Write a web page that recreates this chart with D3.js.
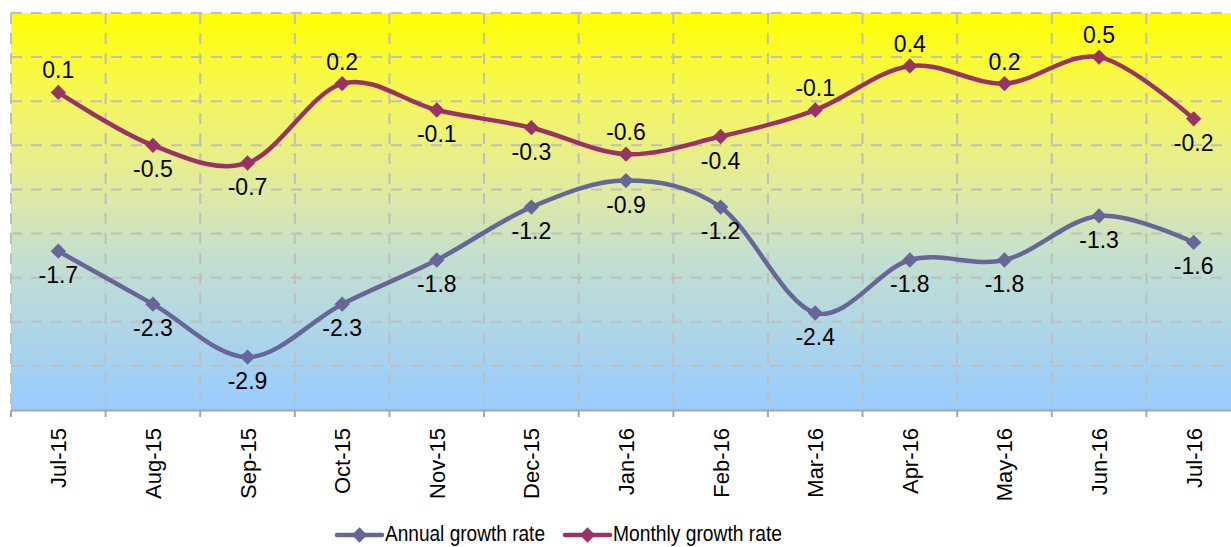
<!DOCTYPE html>
<html>
<head>
<meta charset="utf-8">
<script src="https://cdn.jsdelivr.net/npm/d3@7/dist/d3.min.js"></script>
<style>
  html, body { margin: 0; padding: 0; background: #ffffff; }
  svg { display: block; font-family: "Liberation Sans", Arial, sans-serif; }
</style>
</head>
<body>
<svg id="chart" width="1231" height="547"></svg>
<script>
const categories = ["Jul-15","Aug-15","Sep-15","Oct-15","Nov-15","Dec-15","Jan-16","Feb-16","Mar-16","Apr-16","May-16","Jun-16","Jul-16"];
const annualGrowth = [-1.7,-2.3,-2.9,-2.3,-1.8,-1.2,-0.9,-1.2,-2.4,-1.8,-1.8,-1.3,-1.6];
const monthlyGrowth = [0.1,-0.5,-0.7,0.2,-0.1,-0.3,-0.6,-0.4,-0.1,0.4,0.2,0.5,-0.2];
const annualLabelSide = ["below","below","below","below","below","below","below","below","below","below","below","below","below"];
const monthlyLabelSide = ["above","below","below","above","below","below","above","below","above","above","above","above","below"];
const yTicks = [-3.5,-3,-2.5,-2,-1.5,-1,-0.5,0,0.5,1];
const seriesNames = ["Annual growth rate","Monthly growth rate"];

const svg = d3.select("#chart");
const plot = {left: 11, top: 13, right: 1241, bottom: 410};

const x = d3.scaleBand().domain(categories).range([plot.left, plot.right]).padding(0);
const y = d3.scaleLinear().domain([-3.5, 1]).range([plot.bottom, plot.top]);

// gradient background
const defs = svg.append("defs");
const grad = defs.append("linearGradient").attr("id","bg").attr("x1",0).attr("y1",0).attr("x2",0).attr("y2",1);
[["0%","#FFFF00"],["22%","#F5F65E"],["45%","#E0EAA2"],["62%","#C3DFCF"],["80%","#AED6E6"],["100%","#99CCFF"]]
  .forEach(([o,c]) => grad.append("stop").attr("offset",o).attr("stop-color",c));

svg.append("rect")
  .attr("x", plot.left).attr("y", plot.top)
  .attr("width", plot.right - plot.left).attr("height", plot.bottom - plot.top)
  .attr("fill","url(#bg)");

// horizontal grid
svg.append("g").selectAll("line").data(yTicks.filter(d => d > -3.5)).join("line")
  .attr("x1", plot.left).attr("x2", plot.right)
  .attr("y1", d => y(d)).attr("y2", d => y(d))
  .attr("stroke","#BFBFBF").attr("stroke-width",2).attr("stroke-dasharray","11,9");

// vertical grid at band boundaries
const boundaries = categories.map(c => x(c));
svg.append("g").selectAll("line").data(boundaries).join("line")
  .attr("x1", d => d).attr("x2", d => d)
  .attr("y1", plot.top).attr("y2", plot.bottom)
  .attr("stroke","#BFBFBF").attr("stroke-width",2).attr("stroke-dasharray","11,9");

// x axis
const xAxis = d3.axisBottom(x).tickSize(0).tickFormat("");
const gx = svg.append("g").attr("transform", `translate(0,${plot.bottom})`).call(xAxis);
gx.select(".domain").attr("stroke","#A6A6A6").attr("stroke-width",2);
svg.append("g").selectAll("line").data(boundaries).join("line")
  .attr("x1", d => d).attr("x2", d => d)
  .attr("y1", plot.bottom).attr("y2", plot.bottom + 7)
  .attr("stroke","#A6A6A6").attr("stroke-width",2);

// x labels rotated
svg.append("g").selectAll("text").data(categories).join("text")
  .attr("transform", d => `translate(${x(d) + x.bandwidth()/2 + 8},${plot.bottom + 18}) rotate(-90)`)
  .attr("text-anchor","end")
  .attr("font-size", 22)
  .attr("fill","#000")
  .text(d => d);

const line = d3.line()
  .x((d,i) => x(categories[i]) + x.bandwidth()/2)
  .y(d => y(d))
  .curve(d3.curveCatmullRom.alpha(0));

const diamond = d3.symbol().type(d3.symbolDiamond2).size(150);
const fmt = d => d3.format(".1f")(d).replace("\u2212", "-");

function drawSeries(values, color, sides) {
  const g = svg.append("g");
  g.append("path").datum(values).attr("d", line)
    .attr("fill","none").attr("stroke",color).attr("stroke-width",4.5).attr("stroke-linejoin","round");
  g.selectAll("path.m").data(values).join("path").attr("class","m")
    .attr("d", diamond)
    .attr("transform", (d,i) => `translate(${x(categories[i]) + x.bandwidth()/2},${y(d)})`)
    .attr("fill", color);
  g.selectAll("text").data(values).join("text")
    .attr("x", (d,i) => x(categories[i]) + x.bandwidth()/2)
    .attr("y", (d,i) => y(d) + (sides[i] === "above" ? -14 : 32))
    .attr("text-anchor","middle")
    .attr("font-size", 23)
    .attr("fill","#000")
    .text(d => fmt(d));
}

drawSeries(annualGrowth, "#666699", annualLabelSide);
drawSeries(monthlyGrowth, "#993366", monthlyLabelSide);

// legend
const legendItems = [
  {name: seriesNames[0], color: "#666699", x0: 337, tx: 385, tw: 160},
  {name: seriesNames[1], color: "#993366", x0: 565, tx: 613, tw: 169}
];
const lg = svg.append("g");
legendItems.forEach(it => {
  lg.append("line").attr("x1", it.x0).attr("x2", it.x0 + 45).attr("y1", 535).attr("y2", 535)
    .attr("stroke", it.color).attr("stroke-width", 4.5).attr("stroke-linecap","round");
  lg.append("path").attr("d", diamond).attr("transform", `translate(${it.x0 + 22.5},535)`).attr("fill", it.color);
  lg.append("text").attr("x", it.tx).attr("y", 541)
    .attr("font-size", 22).attr("fill","#000")
    .attr("textLength", it.tw).attr("lengthAdjust","spacingAndGlyphs")
    .text(it.name);
});
</script>
</body>
</html>
